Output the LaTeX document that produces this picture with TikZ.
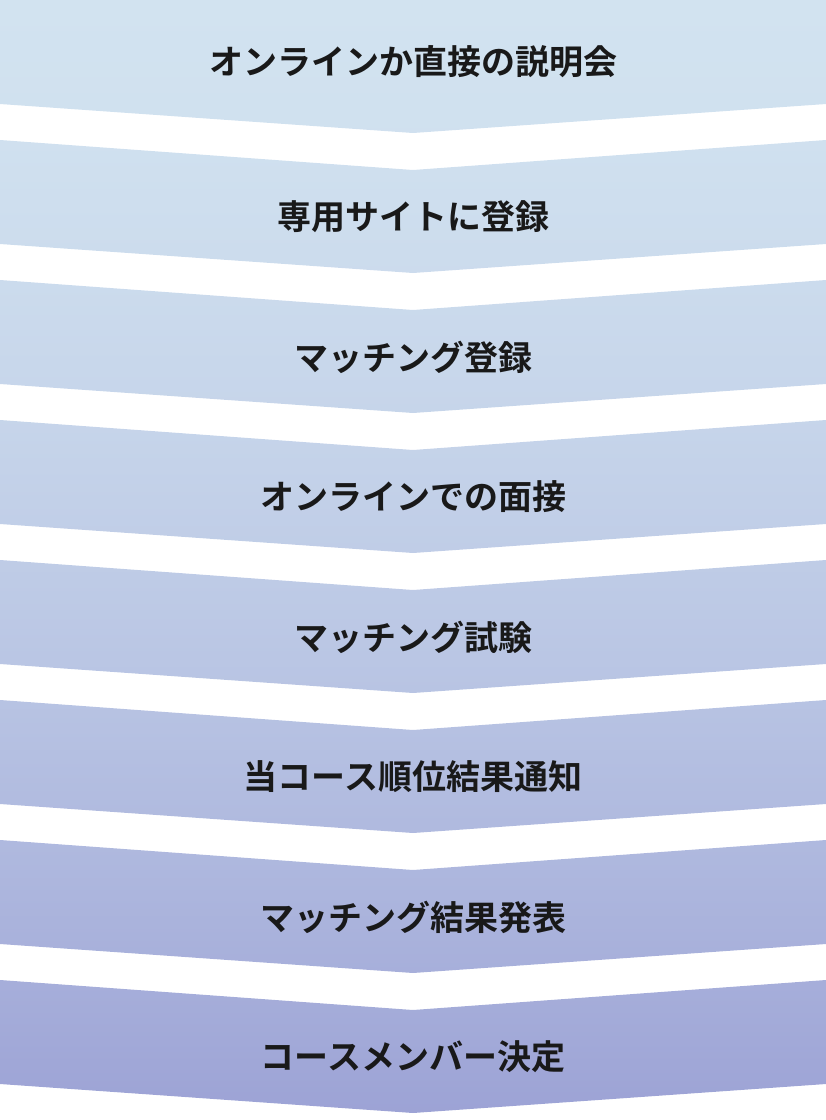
\documentclass[tikz,border=0pt]{standalone}
\usepackage{fontspec}
\newfontfamily\jp{Noto Sans CJK JP Bold}
\definecolor{cA}{RGB}{210,227,240}
\definecolor{cB}{RGB}{156,162,213}
\tikzset{lbl/.style={font=\jp\fontsize{34}{40}\selectfont, text=black!90}}
\begin{document}
\begin{tikzpicture}[x=1pt,y=-1pt]
\useasboundingbox (0,0) rectangle (826,1120);
\foreach \t [count=\i from 0] in {オンラインか直接の説明会,専用サイトに登録,マッチング登録,オンラインでの面接,マッチング試験,当コース順位結果通知,マッチング結果発表,コースメンバー決定}{
  \pgfmathtruncatemacro{\ya}{140*\i}
  \pgfmathtruncatemacro{\pa}{100*(\ya/1120)^1.5}
  \pgfmathtruncatemacro{\pb}{100*((\ya+133)/1120)^1.5}
  \pgfmathtruncatemacro{\tc}{\i==0 ? 0 : 30}
  \pgfmathtruncatemacro{\ty}{\i==0 ? 62 : \ya+77}
  \shade[top color=cB!\pa!cA, bottom color=cB!\pb!cA]
    (0,\ya) -- (413,\ya+\tc) -- (826,\ya) -- (826,\ya+104) -- (413,\ya+133) -- (0,\ya+104) -- cycle;
  \node[lbl] (s\i) at (413,\ty) {\t};
}
\end{tikzpicture}
\end{document}
